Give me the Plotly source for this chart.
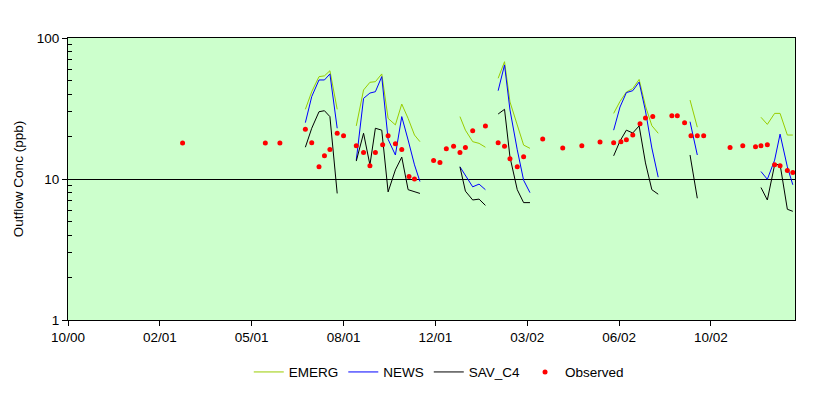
import plotly.graph_objects as go

# ---- tick labels (x axis uses evenly spaced date ticks, as in the source) ----
x_tick_dates = ["2000-10-25", "2001-02-03", "2001-05-15", "2001-08-24",
                "2001-12-03", "2002-03-14", "2002-06-23", "2002-10-02"]
x_tick_labels = ["10/00", "02/01", "05/01", "08/01", "12/01", "03/02", "06/02", "10/02"]
x_range = ["2000-10-25", "2003-01-02 10:00"]

y_tick_vals = [1, 10, 100]
y_tick_labels = ["1", "10", "100"]
y_minor_vals = [2, 3, 4, 5, 6, 7, 8, 9, 20, 30, 40, 50, 60, 70, 80, 90]

# ---- observed data ----
obs_dates = ["2001-02-28", "2001-05-30", "2001-06-15",
             "2001-07-13", "2001-07-20", "2001-07-28", "2001-08-03", "2001-08-09",
             "2001-08-17", "2001-08-24", "2001-09-07", "2001-09-15", "2001-09-22",
             "2001-09-28", "2001-10-06", "2001-10-12", "2001-10-20", "2001-10-27",
             "2001-11-04", "2001-11-10", "2001-12-01", "2001-12-08", "2001-12-15",
             "2001-12-23", "2001-12-30", "2002-01-05", "2002-01-13", "2002-01-27",
             "2002-02-10", "2002-02-17", "2002-02-23", "2002-03-03", "2002-03-10",
             "2002-03-31", "2002-04-22", "2002-05-13", "2002-06-02", "2002-06-17",
             "2002-06-25", "2002-07-01", "2002-07-08", "2002-07-16", "2002-07-22",
             "2002-07-30", "2002-08-20", "2002-08-26", "2002-09-03", "2002-09-10",
             "2002-09-17", "2002-09-24", "2002-10-23", "2002-11-06", "2002-11-20",
             "2002-11-26", "2002-12-03", "2002-12-11", "2002-12-17", "2002-12-25",
             "2002-12-31"]
obs_values = [18.0, 18.0, 18.0,
              22.5, 18.1, 12.2, 14.6, 16.2,
              21.1, 20.3, 17.2, 15.4, 12.4,
              15.4, 17.5, 20.3, 17.8, 16.2,
              10.4, 10.0, 13.5, 13.1, 16.4,
              17.1, 15.4, 16.7, 22.0, 23.8,
              18.1, 17.1, 13.9, 12.2, 14.4,
              19.2, 16.6, 17.2, 18.3, 18.1,
              18.4, 19.0, 20.5, 24.7, 27.1,
              27.7, 28.1, 28.1, 25.1, 20.3,
              20.3, 20.3, 16.7, 17.2, 16.9,
              17.2, 17.5, 12.6, 12.4, 11.5,
              11.1]

# ---- model output (None = gap between simulated periods) ----
model_dates = ["2001-07-13", "2001-07-20", "2001-07-28", "2001-08-03", "2001-08-09", "2001-08-17",
               None,
               "2001-09-07", "2001-09-15", "2001-09-22", "2001-09-28", "2001-10-05", "2001-10-12",
               "2001-10-20", "2001-10-27", "2001-11-03", "2001-11-10", "2001-11-16",
               None,
               "2001-12-30", "2002-01-05", "2002-01-13", "2002-01-20", "2002-01-27",
               None,
               "2002-02-10", "2002-02-14", "2002-02-17", "2002-02-23", "2002-03-03", "2002-03-10",
               "2002-03-17",
               None,
               "2002-06-17", "2002-06-24", "2002-07-01", "2002-07-08", "2002-07-15", "2002-07-22",
               "2002-07-29", "2002-08-05",
               None,
               "2002-09-09", "2002-09-17",
               None,
               "2002-11-26", "2002-12-03", "2002-12-11", "2002-12-17", "2002-12-25", "2002-12-31"]

emerg = [31.2, 41.6, 53.2, 53.9, 58.6, 31.2,
         None,
         23.8, 42.8, 48.5, 49.0, 55.6, 26.9, 24.2, 34.0, 26.9, 20.5, 18.4,
         None,
         27.7, 22.2, 18.4, 17.9, 16.8,
         None,
         51.8, 61.0, 67.9, 35.2, 24.6, 17.4, 16.5,
         None,
         29.2, 35.5, 41.4, 43.8, 50.8, 32.9, 23.9, 21.1,
         None,
         36.3, 23.3,
         None,
         27.4, 24.4, 29.2, 29.2, 20.5, 20.5]

news = [25.1, 38.4, 50.4, 50.4, 55.6, 22.9,
        None,
        13.6, 37.3, 40.7, 41.6, 53.2, 19.1, 14.8, 27.7, 18.9, 12.6, 9.6,
        None,
        12.2, 10.7, 8.8, 9.2, 8.4,
        None,
        42.3, 53.2, 64.4, 30.9, 16.1, 9.8, 8.0,
        None,
        22.2, 32.4, 41.0, 42.3, 48.7, 30.4, 16.6, 10.3,
        None,
        25.5, 14.8,
        None,
        11.3, 9.95, 13.6, 20.8, 12.2, 9.1]

sav_c4 = [16.8, 22.9, 30.0, 30.5, 27.7, 7.9,
          None,
          13.4, 21.1, 12.6, 22.9, 22.2, 8.1, 11.6, 14.3, 8.4, 8.1, 7.9,
          None,
          12.2, 8.2, 7.1, 7.2, 6.5,
          None,
          28.9, 30.4, 31.2, 14.3, 8.4, 6.8, 6.8,
          None,
          14.6, 18.6, 22.2, 21.2, 23.8, 13.0, 8.4, 7.8,
          None,
          14.8, 7.3,
          None,
          8.7, 7.1, 12.6, 12.7, 6.1, 5.9]

FONT = "Liberation Sans, Arial, sans-serif"

fig = go.Figure()
fig.add_trace(go.Scatter(x=model_dates, y=emerg, mode="lines", name="EMERG",
                         line=dict(color="#99CC00", width=1), connectgaps=False))
fig.add_trace(go.Scatter(x=model_dates, y=news, mode="lines", name="NEWS",
                         line=dict(color="#0000FF", width=1), connectgaps=False))
fig.add_trace(go.Scatter(x=model_dates, y=sav_c4, mode="lines", name="SAV_C4",
                         line=dict(color="#000000", width=1), connectgaps=False))
fig.add_trace(go.Scatter(x=obs_dates, y=obs_values, mode="markers", name="Observed",
                         marker=dict(color="#FF0000", size=5, symbol="circle")))
# empty helper trace so the minor-tick overlay axis is drawn
fig.add_trace(go.Scatter(x=[], y=[], yaxis="y2", showlegend=False, hoverinfo="skip"))

fig.update_layout(
    width=829, height=396,
    margin=dict(l=68, r=34, t=38, b=76, autoexpand=False),
    paper_bgcolor="white",
    plot_bgcolor="#CCFFCC",
    font=dict(family=FONT, size=13.5, color="black"),
    showlegend=True,
    legend=dict(orientation="h", x=0.51, xanchor="center", y=-0.185, yanchor="middle",
                font=dict(size=13.5), bgcolor="rgba(0,0,0,0)", itemwidth=30),
)

fig.update_xaxes(
    type="date", range=x_range,
    tickmode="array", tickvals=x_tick_dates, ticktext=x_tick_labels,
    ticks="outside", ticklen=5, tickcolor="black", tickwidth=1,
    showline=True, linecolor="black", linewidth=1, mirror=True,
    showgrid=False, zeroline=False, automargin=False,
    tickfont=dict(size=13.5, color="black"),
)

fig.update_layout(
    yaxis=dict(
        type="log", range=[0, 2],
        tickmode="array", tickvals=y_tick_vals, ticktext=y_tick_labels,
        ticks="outside", ticklen=5, tickcolor="black", tickwidth=1,
        showline=True, linecolor="black", linewidth=1, mirror=True,
        showgrid=True, gridcolor="black", gridwidth=1,
        zeroline=False, automargin=False,
        tickfont=dict(size=13.5, color="black"),
        title=dict(text="Outflow Conc (ppb)", font=dict(size=13.5, color="black"), standoff=10),
    ),
    yaxis2=dict(
        type="log", range=[0, 2], overlaying="y", side="left",
        tickmode="array", tickvals=y_minor_vals, showticklabels=False,
        ticks="inside", ticklen=4, tickcolor="black", tickwidth=1,
        showgrid=False, zeroline=False, showline=False, automargin=False,
    ),
)

fig.write_html("out.html", config={"displayModeBar": False},
               post_script="document.body.style.margin='0px';")
